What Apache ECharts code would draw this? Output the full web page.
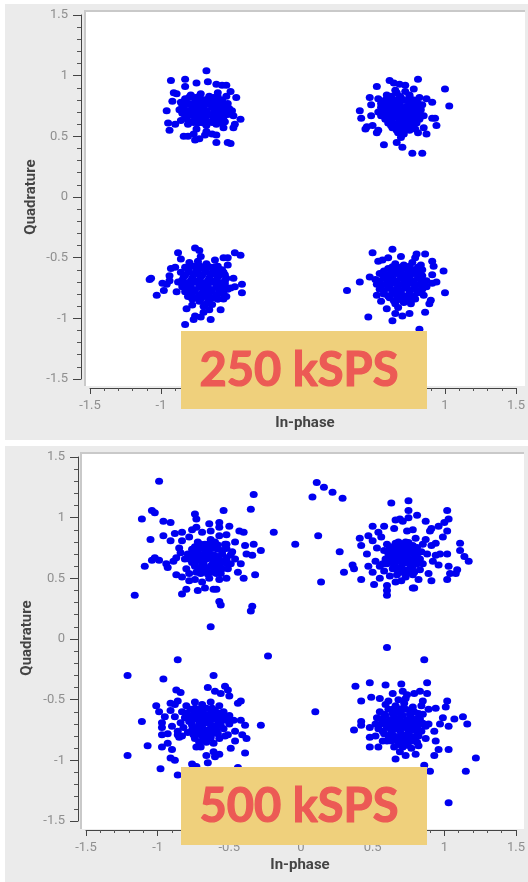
<!DOCTYPE html>
<html><head><meta charset="utf-8">
<style>html,body{margin:0;padding:0;background:#fff}#c{width:528px;height:882px}</style>
<script src="https://cdn.jsdelivr.net/npm/echarts@6/dist/echarts.min.js"></script>
</head><body><div id="c"></div>
<script>
const xAxisName = 'In-phase', yAxisName = 'Quadrature';
const label250 = '250 kSPS', label500 = '500 kSPS';

const a_TL = [[-0.68,1.04],[-0.93,0.96],[-0.83,0.97],[-0.83,0.91],[-0.75,0.94],[-0.67,0.95],[-0.61,0.93],[-0.54,0.92],[-0.57,0.92],[-0.51,0.87],[-0.47,0.82],[-0.91,0.86],[-0.89,0.85],[-0.92,0.79],[-0.96,0.71],[-0.95,0.61],[-0.94,0.55],[-0.90,0.60],[-0.84,0.50],[-0.81,0.50],[-0.77,0.52],[-0.75,0.56],[-0.76,0.47],[-0.73,0.48],[-0.68,0.54],[-0.69,0.51],[-0.64,0.52],[-0.61,0.51],[-0.61,0.45],[-0.53,0.45],[-0.51,0.44],[-0.48,0.60],[-0.49,0.57],[-0.44,0.64],[-0.56,0.57],[-0.49,0.67],[-0.53,0.77],[-0.50,0.71],
[-0.79,0.84],[-0.72,0.85],[-0.66,0.83],[-0.60,0.86],[-0.83,0.81],[-0.76,0.82],[-0.69,0.80],[-0.63,0.82],[-0.57,0.80],[-0.86,0.78],[-0.80,0.77],[-0.73,0.79],[-0.67,0.77],[-0.60,0.78],[-0.55,0.76],[-0.85,0.75],[-0.78,0.74],[-0.71,0.76],[-0.64,0.74],[-0.58,0.75],[-0.87,0.72],[-0.81,0.71],[-0.74,0.73],[-0.68,0.71],[-0.61,0.72],[-0.55,0.71],[-0.85,0.69],[-0.78,0.68],[-0.71,0.70],[-0.65,0.68],[-0.58,0.69],[-0.53,0.68],[-0.83,0.66],[-0.76,0.65],[-0.69,0.67],[-0.62,0.65],[-0.56,0.66],[-0.86,0.63],[-0.79,0.62],[-0.72,0.64],[-0.66,0.62],[-0.59,0.63],[-0.81,0.60],[-0.74,0.61],[-0.68,0.59],[-0.61,0.60],[-0.55,0.62]];
const a_TL2 = [[-0.80,0.825],[-0.73,0.83],[-0.66,0.82],[-0.60,0.825],[-0.54,0.83],[-0.83,0.795],[-0.76,0.79],[-0.70,0.80],[-0.64,0.795],[-0.58,0.79],[-0.82,0.765],[-0.75,0.76],[-0.68,0.765],[-0.62,0.76],[-0.56,0.77],[-0.84,0.735],[-0.77,0.73],[-0.70,0.735],[-0.63,0.73],[-0.57,0.74],[-0.52,0.73],[-0.82,0.705],[-0.75,0.70],[-0.69,0.705],[-0.62,0.70],[-0.56,0.705],[-0.80,0.675],[-0.73,0.67],[-0.67,0.675],[-0.60,0.67],[-0.55,0.68],[-0.82,0.645],[-0.75,0.64],[-0.69,0.645],[-0.63,0.64],[-0.57,0.65],[-0.77,0.615],[-0.70,0.61],[-0.64,0.615],[-0.57,0.61]];

const a_TR = [[0.81,0.97],[0.61,0.96],[0.64,0.94],[0.52,0.91],[1.00,0.89],[1.03,0.75],[0.47,0.82],[0.53,0.81],[0.59,0.84],[0.48,0.76],[0.40,0.71],[0.41,0.65],[0.48,0.67],[0.44,0.56],[0.45,0.58],[0.49,0.59],[0.52,0.53],[0.53,0.55],[0.57,0.43],[0.66,0.45],[0.70,0.41],[0.77,0.36],[0.84,0.36],[0.69,0.49],[0.81,0.53],[0.87,0.52],[0.94,0.59],[0.93,0.65],[0.91,0.65],[0.91,0.78],[0.87,0.81],[0.82,0.82],[0.78,0.89],[0.72,0.92],[0.68,0.93],[0.65,0.88],[0.85,0.57],[0.85,0.67],
[0.66,0.86],[0.72,0.87],[0.62,0.82],[0.68,0.83],[0.75,0.84],[0.80,0.79],[0.57,0.78],[0.63,0.79],[0.70,0.80],[0.76,0.78],[0.84,0.76],[0.55,0.74],[0.60,0.75],[0.66,0.76],[0.72,0.74],[0.78,0.75],[0.83,0.72],[0.53,0.70],[0.58,0.71],[0.64,0.72],[0.69,0.70],[0.75,0.71],[0.80,0.70],[0.55,0.67],[0.61,0.68],[0.66,0.67],[0.72,0.68],[0.78,0.66],[0.82,0.64],[0.58,0.64],[0.63,0.65],[0.69,0.64],[0.75,0.63],[0.80,0.61],[0.60,0.61],[0.65,0.60],[0.71,0.61],[0.76,0.59],[0.63,0.57],[0.68,0.56],[0.73,0.57],[0.79,0.56],[0.67,0.53],[0.71,0.52]];
const a_TR2 = [[0.62,0.83],[0.69,0.82],[0.75,0.83],[0.58,0.80],[0.65,0.80],[0.72,0.795],[0.78,0.80],[0.55,0.77],[0.61,0.77],[0.68,0.775],[0.75,0.77],[0.81,0.77],[0.57,0.74],[0.63,0.745],[0.69,0.74],[0.75,0.74],[0.81,0.745],[0.56,0.71],[0.61,0.715],[0.67,0.71],[0.72,0.71],[0.78,0.715],[0.82,0.70],[0.58,0.68],[0.63,0.685],[0.69,0.68],[0.75,0.68],[0.80,0.675],[0.60,0.65],[0.66,0.655],[0.72,0.65],[0.77,0.65],[0.62,0.62],[0.68,0.625],[0.73,0.62],[0.78,0.625],[0.62,0.59],[0.68,0.595],[0.74,0.59],[0.66,0.55],[0.71,0.555],[0.75,0.55]];

const a_BL = [[-0.76,-0.42],[-0.73,-0.44],[-0.72,-0.49],[-0.88,-0.46],[-0.86,-0.51],[-0.48,-0.46],[-0.44,-0.48],[-0.53,-0.50],[-0.56,-0.50],[-0.62,-0.52],[-0.53,-0.56],[-0.60,-0.57],[-0.93,-0.59],[-0.90,-0.58],[-0.94,-0.65],[-0.94,-0.69],[-1.07,-0.67],[-1.08,-0.68],[-0.99,-0.71],[-0.96,-0.72],[-0.98,-0.77],[-1.03,-0.81],[-0.43,-0.72],[-0.43,-0.79],[-0.49,-0.67],[-0.48,-0.74],[-0.51,-0.75],[-0.54,-0.82],[-0.60,-0.84],[-0.56,-0.84],[-0.58,-0.93],[-0.65,-1.01],[-0.66,-0.93],[-0.70,-0.95],[-0.82,-0.92],[-0.78,-0.89],[-0.76,-0.98],[-0.77,-1.01],[-0.72,-0.99],[-0.83,-1.05],[-0.89,-0.78],
[-0.80,-0.54],[-0.74,-0.53],[-0.68,-0.55],[-0.83,-0.58],[-0.77,-0.57],[-0.71,-0.59],[-0.65,-0.58],[-0.59,-0.60],[-0.86,-0.62],[-0.80,-0.62],[-0.74,-0.63],[-0.68,-0.62],[-0.62,-0.63],[-0.56,-0.62],[-0.84,-0.66],[-0.78,-0.67],[-0.72,-0.66],[-0.66,-0.67],[-0.60,-0.66],[-0.54,-0.67],[-0.88,-0.70],[-0.82,-0.71],[-0.76,-0.70],[-0.70,-0.71],[-0.64,-0.70],[-0.58,-0.71],[-0.85,-0.74],[-0.79,-0.75],[-0.73,-0.74],[-0.67,-0.75],[-0.61,-0.74],[-0.55,-0.74],[-0.83,-0.78],[-0.77,-0.78],[-0.71,-0.79],[-0.65,-0.78],[-0.59,-0.78],[-0.81,-0.82],[-0.75,-0.83],[-0.69,-0.82],[-0.63,-0.83],[-0.73,-0.86],[-0.67,-0.87],[-0.70,-0.90]];
const a_BL2 = [[-0.79,-0.57],[-0.73,-0.565],[-0.67,-0.57],[-0.62,-0.575],[-0.81,-0.60],[-0.75,-0.605],[-0.69,-0.60],[-0.63,-0.605],[-0.57,-0.60],[-0.83,-0.645],[-0.77,-0.64],[-0.71,-0.645],[-0.65,-0.64],[-0.59,-0.645],[-0.55,-0.64],[-0.85,-0.685],[-0.79,-0.69],[-0.73,-0.685],[-0.67,-0.69],[-0.61,-0.685],[-0.55,-0.69],[-0.85,-0.72],[-0.79,-0.725],[-0.73,-0.72],[-0.67,-0.725],[-0.61,-0.72],[-0.55,-0.715],[-0.82,-0.76],[-0.76,-0.765],[-0.70,-0.76],[-0.64,-0.765],[-0.58,-0.76],[-0.53,-0.76],[-0.79,-0.80],[-0.73,-0.805],[-0.67,-0.80],[-0.61,-0.805],[-0.56,-0.80],[-0.78,-0.84],[-0.72,-0.84],[-0.66,-0.845],[-0.60,-0.84],[-0.68,-0.88],[-0.64,-0.885]];

const a_BR = [[0.63,-0.43],[0.49,-0.46],[0.69,-0.49],[0.80,-0.47],[0.86,-0.47],[0.79,-0.50],[0.60,-0.50],[0.56,-0.52],[0.53,-0.53],[0.91,-0.53],[0.92,-0.57],[0.99,-0.61],[0.91,-0.64],[0.94,-0.70],[0.91,-0.71],[1.00,-0.79],[0.90,-0.85],[0.89,-0.88],[0.86,-0.95],[0.75,-0.96],[0.70,-0.98],[0.63,-1.02],[0.46,-0.99],[0.65,-0.96],[0.59,-0.92],[0.55,-0.86],[0.52,-0.81],[0.47,-0.66],[0.40,-0.70],[0.31,-0.77],[0.82,-1.09],
[0.65,-0.55],[0.71,-0.56],[0.77,-0.54],[0.83,-0.56],[0.60,-0.59],[0.66,-0.60],[0.72,-0.59],[0.78,-0.60],[0.84,-0.60],[0.54,-0.63],[0.60,-0.64],[0.66,-0.63],[0.72,-0.64],[0.78,-0.63],[0.84,-0.65],[0.51,-0.68],[0.57,-0.67],[0.63,-0.68],[0.69,-0.67],[0.75,-0.68],[0.81,-0.67],[0.87,-0.69],[0.52,-0.72],[0.58,-0.72],[0.64,-0.71],[0.70,-0.72],[0.76,-0.71],[0.82,-0.72],[0.87,-0.74],[0.54,-0.76],[0.60,-0.75],[0.66,-0.76],[0.72,-0.75],[0.78,-0.76],[0.84,-0.76],[0.57,-0.80],[0.63,-0.79],[0.69,-0.80],[0.75,-0.80],[0.81,-0.79],[0.85,-0.81],[0.61,-0.83],[0.67,-0.84],[0.73,-0.83],[0.79,-0.84],[0.65,-0.88],[0.71,-0.87],[0.76,-0.88],[0.67,-0.91]];
const a_BR2 = [[0.63,-0.575],[0.69,-0.58],[0.75,-0.57],[0.81,-0.58],[0.57,-0.61],[0.63,-0.615],[0.69,-0.61],[0.75,-0.615],[0.81,-0.61],[0.57,-0.65],[0.63,-0.655],[0.69,-0.65],[0.75,-0.655],[0.81,-0.645],[0.54,-0.69],[0.60,-0.695],[0.66,-0.69],[0.72,-0.695],[0.78,-0.69],[0.84,-0.695],[0.55,-0.735],[0.61,-0.74],[0.67,-0.735],[0.73,-0.74],[0.79,-0.735],[0.85,-0.73],[0.57,-0.775],[0.63,-0.77],[0.69,-0.775],[0.75,-0.77],[0.81,-0.775],[0.60,-0.815],[0.66,-0.81],[0.72,-0.815],[0.78,-0.815],[0.64,-0.855],[0.70,-0.85],[0.76,-0.855]];

const b_TL = [[-0.99,1.30],[-1.11,0.99],[-1.04,1.06],[-1.02,1.04],[-0.96,0.97],[-0.91,0.96],[-0.74,1.03],[-0.73,0.99],[-0.64,0.95],[-0.57,0.96],[-0.54,1.06],[-0.35,1.07],[-0.33,1.19],[-0.50,0.93],[-0.43,0.89],[-0.40,0.88],[-0.46,0.80],[-0.39,0.77],[-0.33,0.78],[-0.28,0.73],[-0.38,0.70],[-0.34,0.69],[-0.32,0.53],[-0.40,0.50],[-0.44,0.55],[-0.42,0.62],[-1.05,0.82],[-0.96,0.85],[-0.91,0.81],[-0.88,0.87],[-0.83,0.88],[-0.76,0.90],[-0.73,0.92],[-0.63,0.89],[-0.69,0.88],[-0.57,0.92],[-0.52,0.86],[-1.04,0.65],[-1.02,0.67],[-0.99,0.65],[-1.09,0.60],[-0.94,0.62],[-0.89,0.64],[-0.93,0.59],[-0.87,0.67],[-1.16,0.36],[-0.87,0.53],[-0.83,0.51],[-0.83,0.37],[-0.80,0.41],[-0.72,0.40],[-0.61,0.41],[-0.59,0.41],[-0.67,0.42],[-0.57,0.31],[-0.56,0.28],[-0.34,0.27],[-0.35,0.23],[-0.63,0.10],[-0.52,0.50],[-0.57,0.49],[-0.78,0.48],
[-0.83,0.81],[-0.78,0.84],[-0.72,0.80],[-0.63,0.82],[-0.57,0.85],[-0.85,0.75],[-0.74,0.76],[-0.67,0.78],[-0.60,0.80],[-0.52,0.78],[-0.84,0.71],[-0.79,0.70],[-0.72,0.72],[-0.66,0.74],[-0.61,0.75],[-0.55,0.73],[-0.48,0.72],[-0.81,0.66],[-0.75,0.67],[-0.70,0.69],[-0.64,0.70],[-0.58,0.68],[-0.52,0.67],[-0.46,0.66],[-0.76,0.63],[-0.71,0.65],[-0.66,0.66],[-0.61,0.64],[-0.55,0.63],[-0.49,0.62],[-0.80,0.58],[-0.74,0.60],[-0.69,0.61],[-0.63,0.60],[-0.58,0.59],[-0.51,0.58],[-0.78,0.54],[-0.73,0.55],[-0.68,0.57],[-0.62,0.55],[-0.56,0.54],[-0.74,0.49],[-0.69,0.47],[-0.64,0.50]];
const b_TL2 = [[-0.70,0.78],[-0.64,0.785],[-0.58,0.775],[-0.53,0.78],[-0.76,0.74],[-0.70,0.745],[-0.64,0.735],[-0.58,0.74],[-0.52,0.745],[-0.77,0.70],[-0.73,0.695],[-0.67,0.705],[-0.61,0.695],[-0.55,0.70],[-0.49,0.695],[-0.78,0.66],[-0.72,0.665],[-0.68,0.655],[-0.63,0.665],[-0.57,0.655],[-0.52,0.66],[-0.74,0.62],[-0.68,0.625],[-0.62,0.615],[-0.57,0.62],[-0.52,0.625],[-0.71,0.58],[-0.66,0.585],[-0.60,0.575],[-0.55,0.58],[-0.70,0.54],[-0.65,0.535],[-0.59,0.54]];

const b_TR = [[0.11,1.29],[0.16,1.25],[0.22,1.21],[0.29,1.16],[0.08,1.17],[0.63,1.12],[0.75,1.14],[-0.19,0.88],[-0.04,0.78],[0.12,0.85],[0.27,0.72],[0.14,0.47],[0.30,0.55],[0.36,0.61],[0.37,0.58],[0.42,0.49],[0.51,0.45],[0.60,0.44],[0.60,0.40],[0.60,0.36],[0.78,0.42],[0.79,0.42],[0.82,0.49],[0.91,0.48],[1.02,0.49],[1.04,0.54],[1.08,0.54],[1.09,0.57],[1.03,0.60],[1.17,0.64],[1.14,0.68],[1.11,0.73],[1.11,0.79],[1.02,0.70],[0.97,0.70],[0.94,0.69],[0.88,0.70],[1.02,1.06],[1.03,0.99],[1.00,0.96],[1.02,0.89],[0.99,0.84],[0.96,0.93],[0.87,0.97],[0.81,1.02],[0.75,1.06],[0.66,0.98],[0.65,0.91],[0.58,0.93],[0.50,0.93],[0.54,0.88],[0.47,0.85],[0.41,0.83],[0.42,0.77],[0.46,0.70],[0.52,0.64],[0.47,0.60],[0.50,0.55],[0.55,0.60],[0.96,0.61],[0.89,0.54],[0.92,0.64],[0.94,0.79],[0.91,0.77],[0.87,0.82],[0.90,0.89],[0.74,0.89],[0.78,0.90],[0.71,0.97],[0.75,1.00],[0.69,0.99],[0.91,0.91],
[0.50,0.81],[0.56,0.84],[0.60,0.78],[0.66,0.79],[0.73,0.80],[0.80,0.83],[0.85,0.78],[0.53,0.75],[0.58,0.73],[0.65,0.75],[0.71,0.76],[0.78,0.77],[0.84,0.72],[0.61,0.70],[0.66,0.71],[0.71,0.72],[0.77,0.72],[0.81,0.68],[0.59,0.66],[0.64,0.67],[0.69,0.68],[0.74,0.68],[0.79,0.65],[0.85,0.62],[0.57,0.62],[0.63,0.63],[0.68,0.64],[0.73,0.63],[0.78,0.60],[0.58,0.56],[0.64,0.58],[0.69,0.59],[0.75,0.57],[0.83,0.57],[0.62,0.52],[0.67,0.53],[0.73,0.51],[0.78,0.53],[0.66,0.47],[0.70,0.48],[0.55,0.50]];
const b_TR2 = [[0.68,0.80],[0.75,0.795],[0.62,0.76],[0.69,0.765],[0.75,0.76],[0.81,0.755],[0.63,0.72],[0.68,0.725],[0.74,0.72],[0.80,0.725],[0.64,0.695],[0.69,0.70],[0.74,0.695],[0.79,0.70],[0.62,0.66],[0.67,0.655],[0.72,0.66],[0.77,0.655],[0.83,0.66],[0.60,0.62],[0.65,0.615],[0.71,0.62],[0.76,0.615],[0.81,0.62],[0.66,0.58],[0.71,0.575],[0.77,0.58],[0.70,0.55],[0.74,0.545],[0.79,0.55]];

const b_BL = [[-1.21,-0.30],[-0.96,-0.33],[-0.61,-0.30],[-0.53,-0.39],[-0.51,-0.42],[-0.65,-0.40],[-0.50,-0.47],[-0.56,-0.45],[-0.60,-0.43],[-0.87,-0.42],[-0.84,-0.44],[-0.42,-0.51],[-0.44,-0.53],[-0.28,-0.71],[-1.01,-0.55],[-0.99,-0.60],[-0.91,-0.53],[-0.88,-0.54],[-0.86,-0.51],[-0.91,-0.59],[-0.95,-0.64],[-1.11,-0.68],[-0.97,-0.69],[-0.97,-0.73],[-0.97,-0.79],[-0.93,-0.78],[-0.86,-0.79],[-1.07,-0.88],[-0.93,-0.86],[-0.97,-0.89],[-0.90,-0.91],[-1.21,-0.96],[-0.91,-0.98],[-0.88,-1.00],[-0.98,-1.07],[-0.86,-1.12],[-0.76,-1.03],[-0.73,-1.05],[-0.66,-0.96],[-0.65,-1.02],[-0.61,-0.93],[-0.60,-0.97],[-0.57,-0.95],[-0.49,-0.90],[-0.46,-0.84],[-0.39,-0.94],[-0.44,-1.06],[-0.41,-0.79],[-0.38,-0.82],[-0.39,-0.71],[-0.42,-0.67],[-0.46,-0.76],[-0.50,-0.63],[-0.53,-0.80],[-0.70,-0.89],[-0.73,-0.89],[-0.85,-0.81],[-0.86,-0.17],[-0.23,-0.14],
[-0.80,-0.55],[-0.74,-0.52],[-0.69,-0.54],[-0.63,-0.52],[-0.57,-0.55],[-0.83,-0.60],[-0.77,-0.58],[-0.72,-0.58],[-0.66,-0.57],[-0.60,-0.59],[-0.54,-0.60],[-0.88,-0.64],[-0.81,-0.65],[-0.75,-0.62],[-0.70,-0.61],[-0.64,-0.62],[-0.58,-0.63],[-0.52,-0.65],[-0.47,-0.67],[-0.84,-0.69],[-0.78,-0.68],[-0.73,-0.66],[-0.68,-0.65],[-0.62,-0.66],[-0.56,-0.68],[-0.50,-0.70],[-0.90,-0.72],[-0.82,-0.73],[-0.71,-0.70],[-0.66,-0.69],[-0.60,-0.72],[-0.54,-0.74],[-0.86,-0.76],[-0.79,-0.77],[-0.72,-0.74],[-0.67,-0.75],[-0.58,-0.78],[-0.51,-0.79],[-0.83,-0.80],[-0.75,-0.79],[-0.69,-0.80],[-0.63,-0.80],[-0.57,-0.82],[-0.71,-0.85],[-0.66,-0.85],[-0.61,-0.86]];
const b_BL2 = [[-0.74,-0.57],[-0.68,-0.575],[-0.62,-0.57],[-0.80,-0.61],[-0.74,-0.605],[-0.68,-0.615],[-0.62,-0.605],[-0.56,-0.61],[-0.78,-0.64],[-0.72,-0.645],[-0.66,-0.635],[-0.60,-0.645],[-0.55,-0.64],[-0.76,-0.67],[-0.70,-0.675],[-0.64,-0.665],[-0.58,-0.675],[-0.52,-0.67],[-0.76,-0.71],[-0.69,-0.715],[-0.63,-0.705],[-0.56,-0.71],[-0.76,-0.75],[-0.70,-0.755],[-0.64,-0.745],[-0.59,-0.75],[-0.72,-0.78],[-0.66,-0.785],[-0.61,-0.775],[-0.74,-0.82],[-0.68,-0.825],[-0.63,-0.815]];

const b_BR = [[0.38,-0.39],[0.48,-0.36],[0.59,-0.38],[0.70,-0.37],[0.88,-0.36],[0.64,-0.45],[0.71,-0.43],[0.74,-0.46],[0.83,-0.43],[0.88,-0.45],[0.79,-0.45],[0.42,-0.51],[0.49,-0.48],[0.55,-0.49],[0.61,-0.51],[0.68,-0.50],[0.73,-0.49],[0.85,-0.51],[1.02,-0.51],[1.01,-0.56],[0.94,-0.57],[0.89,-0.58],[0.10,-0.60],[1.13,-0.64],[1.07,-0.66],[0.99,-0.65],[1.16,-0.70],[1.03,-0.72],[0.97,-0.70],[0.89,-0.70],[0.42,-0.68],[0.42,-0.71],[0.37,-0.75],[0.48,-0.73],[0.48,-0.81],[0.48,-0.89],[0.54,-0.89],[0.93,-0.76],[0.94,-0.84],[0.96,-0.91],[1.03,-0.91],[0.93,-0.96],[1.22,-0.98],[1.15,-1.09],[0.90,-1.09],[0.86,-1.04],[1.03,-1.35],[0.66,-0.99],[0.73,-0.96],[0.80,-0.95],[0.82,-0.88],[0.60,-0.07],[0.86,-0.17],
[0.59,-0.54],[0.66,-0.55],[0.72,-0.53],[0.78,-0.56],[0.84,-0.55],[0.55,-0.60],[0.61,-0.58],[0.67,-0.60],[0.73,-0.58],[0.79,-0.60],[0.85,-0.62],[0.53,-0.65],[0.59,-0.63],[0.65,-0.64],[0.71,-0.63],[0.77,-0.65],[0.83,-0.66],[0.52,-0.70],[0.58,-0.68],[0.64,-0.69],[0.70,-0.68],[0.76,-0.70],[0.82,-0.71],[0.87,-0.72],[0.54,-0.74],[0.60,-0.73],[0.66,-0.74],[0.72,-0.73],[0.78,-0.75],[0.84,-0.76],[0.52,-0.80],[0.58,-0.78],[0.64,-0.79],[0.70,-0.78],[0.76,-0.80],[0.82,-0.80],[0.87,-0.82],[0.57,-0.84],[0.63,-0.84],[0.69,-0.83],[0.75,-0.85],[0.81,-0.85],[0.65,-0.89],[0.71,-0.89],[0.77,-0.90],[0.69,-0.93]];
const b_BR2 = [[0.64,-0.58],[0.70,-0.575],[0.76,-0.585],[0.58,-0.62],[0.64,-0.615],[0.70,-0.625],[0.76,-0.62],[0.82,-0.615],[0.56,-0.66],[0.62,-0.665],[0.68,-0.655],[0.74,-0.665],[0.80,-0.66],[0.56,-0.70],[0.61,-0.705],[0.67,-0.695],[0.73,-0.705],[0.79,-0.70],[0.85,-0.695],[0.63,-0.725],[0.69,-0.72],[0.75,-0.725],[0.81,-0.73],[0.57,-0.76],[0.63,-0.765],[0.69,-0.755],[0.75,-0.765],[0.81,-0.76],[0.61,-0.80],[0.67,-0.805],[0.73,-0.80],[0.79,-0.805],[0.60,-0.84],[0.66,-0.835],[0.72,-0.845],[0.78,-0.84],[0.68,-0.87],[0.74,-0.875]];

const points250 = [].concat(a_TL, a_TL2, a_TR, a_TR2, a_BL, a_BL2, a_BR, a_BR2);
const points500 = [].concat(b_TL, b_TL2, b_TR, b_TR2, b_BL, b_BL2, b_BR, b_BR2);

function xAx(gi, off) {
  return { gridIndex: gi, type: 'value', min: -1.5, max: 1.5, interval: 0.5, position: 'bottom', offset: off,
    axisLine: { onZero: false, show: true, lineStyle: { color: '#444', width: 1 } },
    axisTick: { show: true, length: 6, lineStyle: { color: '#444' } },
    minorTick: { show: true, splitNumber: 5, length: 3, lineStyle: { color: '#555' } },
    axisLabel: { color: '#8f8f8f', fontSize: 13, fontFamily: 'Roboto', margin: 11, hideOverlap: false, showMinLabel: true, showMaxLabel: true },
    splitLine: { show: false }, minorSplitLine: { show: false } };
}
function yAx(gi, off) {
  return { gridIndex: gi, type: 'value', min: -1.5, max: 1.5, interval: 0.5, position: 'left', offset: off,
    axisLine: { onZero: false, show: true, lineStyle: { color: '#444', width: 1 } },
    axisTick: { show: true, length: 8, lineStyle: { color: '#444' } },
    minorTick: { show: true, splitNumber: 5, length: 4, lineStyle: { color: '#555' } },
    axisLabel: { color: '#8f8f8f', fontSize: 13, fontFamily: 'Roboto', margin: 13, padding: [2, 0, 0, 0], showMinLabel: true, showMaxLabel: true },
    splitLine: { show: false }, minorSplitLine: { show: false } };
}
function rect(x, y, w, h, fill, z) { return { type: 'rect', shape: { x, y, width: w, height: h }, style: { fill }, z, silent: true }; }
function txt(x, y, s, o, z, rot) {
  return { type: 'text', x, y, rotation: rot || 0, z, silent: true,
    style: Object.assign({ text: s, align: 'center', verticalAlign: 'middle' }, o) };
}
const titleStyle = { fill: '#444', font: 'bold 15px Roboto' };
const bannerStyle = { fill: '#EC5A55', stroke: '#EC5A55', lineWidth: 1.2, font: 'bold 47px Lato' };

const chart = echarts.init(document.getElementById('c'), null, { renderer: 'canvas' });
chart.setOption({
  animation: false,
  backgroundColor: '#fff',
  grid: [
    { left: 90, top: 15, width: 431, height: 364 },
    { left: 86, top: 457, width: 431, height: 364 }
  ],
  xAxis: [xAx(0, 9), xAx(1, 9)],
  yAxis: [yAx(0, 9), yAx(1, 8)],
  series: [
    { type: 'scatter', xAxisIndex: 0, yAxisIndex: 0, data: points250, symbol: 'circle', symbolSize: [8, 7], itemStyle: { color: '#0000f0', opacity: 1 }, z: 5 },
    { type: 'scatter', xAxisIndex: 1, yAxisIndex: 1, data: points500, symbol: 'circle', symbolSize: [8, 7], itemStyle: { color: '#0000f0', opacity: 1 }, z: 5 }
  ],
  graphic: { elements: [
    rect(5, 4, 523, 436, '#ebebeb', -5),
    rect(5, 446, 523, 436, '#ebebeb', -5),
    rect(84, 10, 441, 376, '#c9c9c9', -4),
    rect(86, 12, 439, 374, '#ffffff', -3),
    rect(80, 452, 444, 377, '#c9c9c9', -4),
    rect(82, 454, 442, 375, '#ffffff', -3),
    txt(305, 423, xAxisName, titleStyle, 20),
    txt(300, 865, xAxisName, titleStyle, 20),
    txt(31, 197, yAxisName, titleStyle, 20, Math.PI / 2),
    txt(27, 638, yAxisName, titleStyle, 20, Math.PI / 2),
    rect(181, 331, 246, 78, '#EFD07C', 50),
    rect(181, 767, 246, 78, '#EFD07C', 50),
    txt(299, 371, label250, bannerStyle, 51),
    txt(299, 807, label500, bannerStyle, 51)
  ] }
});
</script></body></html>
